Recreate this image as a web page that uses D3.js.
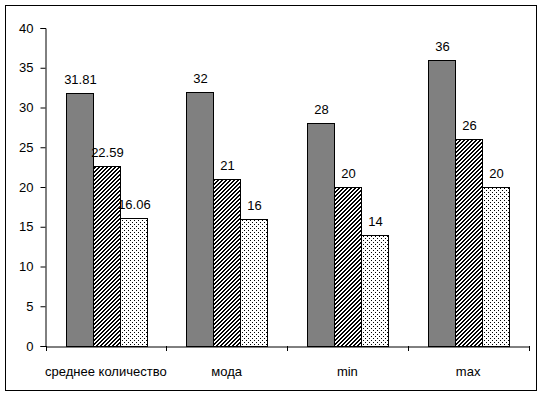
<!DOCTYPE html>
<html>
<head>
<meta charset="utf-8">
<script src="https://cdn.jsdelivr.net/npm/d3@7"></script>
<style>
  body { margin: 0; background: #fff; }
  text { font-family: "Liberation Sans", Arial, sans-serif; font-size: 13px; fill: #000; }
</style>
</head>
<body>
<div id="chart"></div>
<script>
const categories = ['среднее количество', 'мода', 'min', 'max']
const seriesNames = ['s1', 's2', 's3']
const s1 = [31.81, 32, 28, 36]
const s2 = [22.59, 21, 20, 26]
const s3 = [16.06, 16, 14, 20]
const labels1 = ['31.81', '32', '28', '36']
const labels2 = ['22.59', '21', '20', '26']
const labels3 = ['16.06', '16', '14', '20']
const yTicks = [0, 5, 10, 15, 20, 25, 30, 35, 40]

const width = 543
const height = 395

const svg = d3
  .select('#chart')
  .append('svg')
  .attr('width', width)
  .attr('height', height)

// patterns for the 2nd and 3rd series
const defs = svg.append('defs')
const hatch = defs
  .append('pattern')
  .attr('id', 'hatch')
  .attr('patternUnits', 'userSpaceOnUse')
  .attr('width', 4)
  .attr('height', 4)
hatch.append('rect').attr('width', 4).attr('height', 4).attr('fill', '#fff')
// 2px wide diagonal, drawn pixel by pixel
;[0, 1, 2, 3].forEach((r) => {
  ;[0, 1].forEach((k) => {
    hatch
      .append('rect')
      .attr('x', (3 - r + k) % 4)
      .attr('y', r)
      .attr('width', 1)
      .attr('height', 1)
      .attr('fill', '#000')
  })
})

const dots = defs
  .append('pattern')
  .attr('id', 'dots')
  .attr('patternUnits', 'userSpaceOnUse')
  .attr('width', 4)
  .attr('height', 4)
dots.append('rect').attr('width', 4).attr('height', 4).attr('fill', '#fff')
dots.append('rect').attr('x', 0).attr('y', 0).attr('width', 1).attr('height', 1).attr('fill', '#000')
dots.append('rect').attr('x', 2).attr('y', 2).attr('width', 1).attr('height', 1).attr('fill', '#000')

// outer border
svg
  .append('rect')
  .attr('x', 5.5)
  .attr('y', 5.5)
  .attr('width', 531)
  .attr('height', 385)
  .attr('fill', 'none')
  .attr('stroke', '#000')

const x0 = d3.scaleBand().domain(categories).range([45.5, 528.5])
const x1 = d3
  .scaleBand()
  .domain(seriesNames)
  .range([0, x0.bandwidth()])
  .paddingOuter(0.75)
const y = d3.scaleLinear().domain([0, 40]).range([346, 28])

const fills = { s1: '#808080', s2: 'url(#hatch)', s3: 'url(#dots)' }
const rows = categories.map((c, i) => ({
  cat: c,
  vals: [
    { key: 's1', v: s1[i], label: labels1[i] },
    { key: 's2', v: s2[i], label: labels2[i] },
    { key: 's3', v: s3[i], label: labels3[i] },
  ],
}))

const groups = svg
  .selectAll('g.grp')
  .data(rows)
  .join('g')
  .attr('class', 'grp')
  .attr('transform', (d) => `translate(${Math.round(x0(d.cat))},0)`)

groups
  .selectAll('rect')
  .data((d) => d.vals)
  .join('rect')
  .attr('x', (d) => Math.round(x1(d.key)) + 0.5)
  .attr('y', (d) => Math.round(y(d.v)) + 0.5)
  .attr('width', Math.round(x1.bandwidth()))
  .attr('height', (d) => y(0) - Math.round(y(d.v)))
  .attr('fill', (d) => fills[d.key])
  .attr('stroke', '#000')
  .attr('stroke-width', 1)

groups
  .selectAll('text')
  .data((d) => d.vals)
  .join('text')
  .attr('x', (d) => Math.round(x1(d.key)) + x1.bandwidth() / 2 + 1)
  .attr('y', (d) => y(d.v) - 9)
  .attr('text-anchor', 'middle')
  .text((d) => d.label)

// y axis
const yAxis = svg
  .append('g')
  .attr('transform', 'translate(45.5,0)')
  .call(d3.axisLeft(y).tickValues(yTicks).tickSize(5).tickPadding(7))
yAxis.select('.domain').attr('stroke', '#000')
yAxis.selectAll('text').style('font-size', '13px').attr('font-family', null)

// x axis
const xAxis = svg
  .append('g')
  .attr('transform', `translate(0,${y(0) + 0.5})`)
  .call(d3.axisBottom(x0).tickSize(0).tickSizeOuter(0).tickPadding(20))
xAxis.select('.domain').attr('stroke', '#000')
xAxis.selectAll('text').style('font-size', '13px').attr('font-family', null)

// tick marks between categories
const bounds = categories.map((c) => x0(c)).concat([x0.range()[1]])
svg
  .append('g')
  .selectAll('line')
  .data(bounds)
  .join('line')
  .attr('x1', (d) => Math.round(d) + 0.5)
  .attr('x2', (d) => Math.round(d) + 0.5)
  .attr('y1', y(0))
  .attr('y2', y(0) + 5)
  .attr('stroke', '#000')
</script>
</body>
</html>
